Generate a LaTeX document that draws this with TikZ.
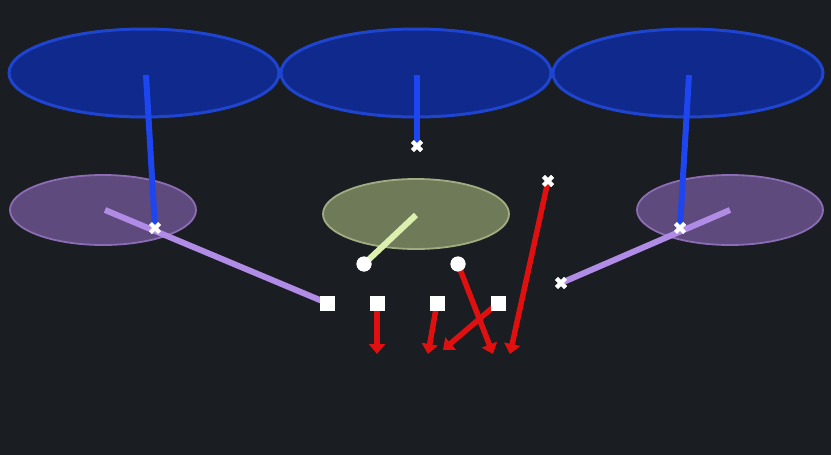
\documentclass[tikz,border=0pt]{standalone}
\usetikzlibrary{arrows.meta}
\definecolor{bg}{HTML}{1A1D22}
\definecolor{zoneblue}{HTML}{10298C}
\definecolor{edgeblue}{HTML}{1E44D0}
\definecolor{lineblue}{HTML}{1E46F0}
\definecolor{zonepurple}{HTML}{5E4A7C}
\definecolor{edgepurple}{HTML}{8C6CB4}
\definecolor{linepurple}{HTML}{B08CE6}
\definecolor{zonegreen}{HTML}{6E7A58}
\definecolor{edgegreen}{HTML}{A2AC82}
\definecolor{linegreen}{HTML}{DDF0B0}
\definecolor{routered}{HTML}{E01010}
\begin{document}
\begin{tikzpicture}[x=1pt,y=-1pt,
  bluezone/.style={fill=zoneblue,draw=edgeblue,line width=3pt},
  purplezone/.style={fill=zonepurple,draw=edgepurple,line width=1.8pt},
  greenzone/.style={fill=zonegreen,draw=edgegreen,line width=1.8pt},
  bline/.style={draw=lineblue,line width=6pt},
  pline/.style={draw=linepurple,line width=6pt},
  gline/.style={draw=linegreen,line width=6pt},
  rroute/.style={draw=routered,line width=5.5pt,-{Triangle[width=16pt,length=10pt]}},
  sq/.style={fill=white,minimum size=15pt,inner sep=0pt,rectangle},
  circ/.style={fill=white,circle,minimum size=15pt,inner sep=0pt},
  xm/.style={inner sep=0pt,minimum size=16pt,
    path picture={\draw[white,line width=4pt] (path picture bounding box.center) +(-4.5pt,-4.5pt) -- +(4.5pt,4.5pt);
    \draw[white,line width=4pt] (path picture bounding box.center) +(-4.5pt,4.5pt) -- +(4.5pt,-4.5pt);}}
]
\fill[bg] (0,0) rectangle (831,455);
\useasboundingbox (0,0) rectangle (831,455);
% deep zones
\path[bluezone] (144,73) ellipse [x radius=135, y radius=44];
\path[bluezone] (416,73) ellipse [x radius=135, y radius=44];
\path[bluezone] (688,73) ellipse [x radius=135, y radius=44];
% underneath zones
\path[purplezone] (103,210) ellipse [x radius=93, y radius=35];
\path[purplezone] (730,210) ellipse [x radius=93, y radius=35];
\path[greenzone] (416,214) ellipse [x radius=93, y radius=35];
% anchor coordinates
\coordinate (bl) at (146,75);
\coordinate (bm) at (417,75);
\coordinate (br) at (689,75);
\coordinate (pl) at (105,210);
\coordinate (pr) at (730,210);
\coordinate (gm) at (416,215);
% players
\node[xm] (x1) at (155,228) {};
\node[xm] (x2) at (417,146) {};
\node[xm] (x3) at (548,181) {};
\node[xm] (x4) at (680,228) {};
\node[xm] (x5) at (561,283) {};
\node[circ] (c1) at (364,264) {};
\node[circ] (c2) at (458,264) {};
\node[sq] (s1) at (327,303) {};
\node[sq] (s2) at (377,303) {};
\node[sq] (s3) at (437,303) {};
\node[sq] (s4) at (498,303) {};
% route end points
\coordinate (e1) at (377,354);
\coordinate (e2) at (428,354);
\coordinate (e3) at (443,350);
\coordinate (e4) at (493,354);
\coordinate (e5) at (510,354);
% assignments
\draw[bline] (bl) -- (x1.center);
\draw[bline] (bm) -- (x2.center);
\draw[bline] (br) -- (x4.center);
\draw[pline] (pl) -- (s1.center);
\draw[pline] (pr) -- (x5.center);
\draw[gline] (gm) -- (c1.center);
\draw[rroute] (s2.center) -- (e1);
\draw[rroute] (s3.center) -- (e2);
\draw[rroute] (c2.center) -- (e4);
\draw[rroute] (s4.center) -- (e3);
\draw[rroute] (x3.center) -- (e5);
% markers on top
\node[xm] at (x1) {};
\node[xm] at (x2) {};
\node[xm] at (x3) {};
\node[xm] at (x4) {};
\node[xm] at (x5) {};
\node[circ] at (c1) {};
\node[circ] at (c2) {};
\node[sq] at (s1) {};
\node[sq] at (s2) {};
\node[sq] at (s3) {};
\node[sq] at (s4) {};
\end{tikzpicture}
\end{document}
